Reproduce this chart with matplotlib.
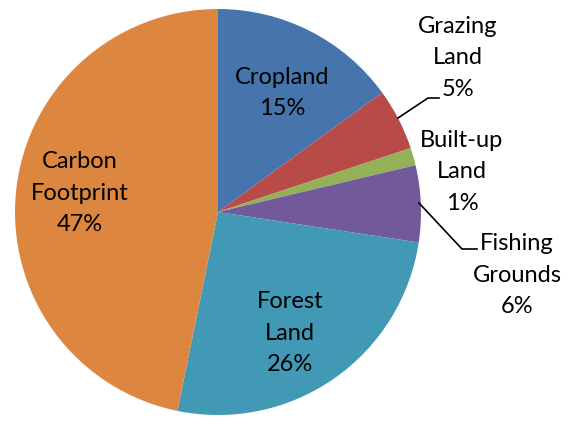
import matplotlib.pyplot as plt

# Ecological footprint components (percent)
names = ["Cropland", "Grazing\nLand", "Built-up\nLand", "Fishing\nGrounds", "Forest\nLand", "Carbon\nFootprint"]
values = [15.0, 4.9, 1.4, 6.1, 25.8, 46.8]
colors = ["#4674AC", "#B84B47", "#93B156", "#72599A", "#4299B5", "#DD8640"]

# label centres in pixels (x from left, y from top)
label_px = [(282, 93), (458, 58), (462, 172), (517, 275), (290, 333), (80, 193)]

W, H = 569, 432
cx, cy, R = 218, 212, 203


def to_data(px, py):
    return (px - cx) / R, (cy - py) / R


fig = plt.figure(figsize=(W / 100, H / 100), dpi=100)
ax = fig.add_axes([0, 0, 1, 1])
ax.pie(values, colors=colors, startangle=90, counterclock=False, radius=1,
       wedgeprops=dict(linewidth=0))
ax.set_xlim(-cx / R, (W - cx) / R)
ax.set_ylim(-(H - cy) / R, cy / R)
ax.set_aspect("equal")
ax.axis("off")

for name, v, (px, py) in zip(names, values, label_px):
    x, y = to_data(px, py)
    ax.text(x, y, f"{name}\n{v:.0f}%", ha="center", va="center",
            fontsize=17, family="Lato", linespacing=1.6, color="black")

# leader lines
for pts in [[(398, 118), (428, 98), (439, 98)], [(419, 203), (462, 249), (477, 249)]]:
    xs, ys = zip(*[to_data(*p) for p in pts])
    ax.plot(xs, ys, color="black", linewidth=1.2)

fig.savefig("out.png", dpi=100)
